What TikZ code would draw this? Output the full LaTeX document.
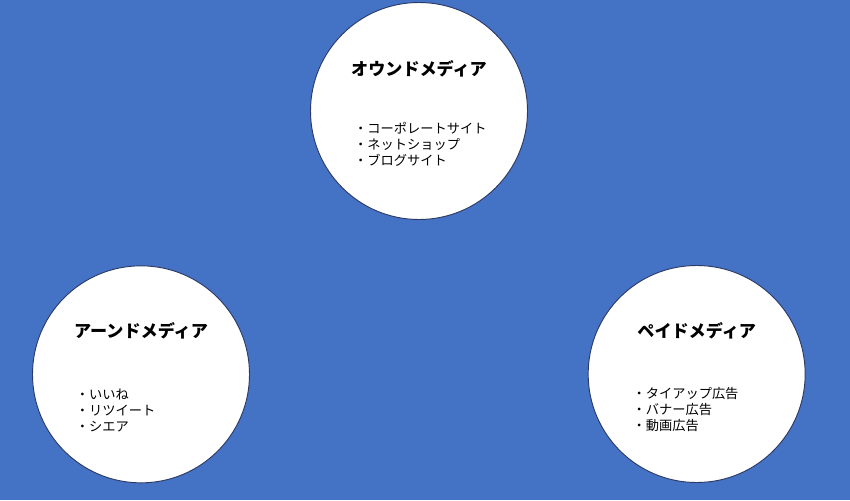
\documentclass[tikz,border=0pt]{standalone}
\usepackage{fontspec}
\newfontfamily\jpfont{Noto Sans CJK JP}
\definecolor{bgblue}{HTML}{4472C4}
\definecolor{rimblue}{HTML}{2B3A67}

\begin{document}
\begin{tikzpicture}[
mediacircle/.style={
circle,
draw=rimblue,
fill=white,
line width=0.8 pt,
minimum size=6.51 cm,
inner sep=0 pt,
},
mediatitle/.style={
anchor=center,
inner sep=0 pt,
font=\jpfont\bfseries\fontsize{14.6pt}{16pt}\selectfont,
},
medialist/.style={
anchor=west,
align=left,
inner sep=0 pt,
font=\jpfont\fontsize{11.3pt}{13.66pt}\selectfont,
}
]

% background
\fill[bgblue] (0,0) rectangle (25.5,15);
\useasboundingbox (0,0) rectangle (25.5,15);

% circles
\node [mediacircle] at (12.57,11.67) (owned) {};
\node [mediacircle] at (4.23,3.77) (earned) {};
\node [mediacircle] at (20.9,3.78) (paid) {};

% titles
\path[every node/.style={mediatitle}]
(owned) +(90:1.26 cm) node (ownedT) {オウンドメディア}
(earned) +(90:1.30 cm) node (earnedT) {アーンドメディア}
(paid) +(90:1.30 cm) node (paidT) {ペイドメディア}
;

% lists
\path[every node/.style={medialist}]
(owned) +(-1.95 cm,-1.00 cm) node (ownedL)
{・コーポレートサイト\\・ネットショップ\\・ブログサイト}
(earned) +(-1.96 cm,-1.08 cm) node (earnedL)
{・いいね\\・リツイート\\・シエア}
(paid) +(-1.93 cm,-1.08 cm) node (paidL)
{・タイアップ広告\\・バナー広告\\・動画広告}
;

\end{tikzpicture}
\end{document}
